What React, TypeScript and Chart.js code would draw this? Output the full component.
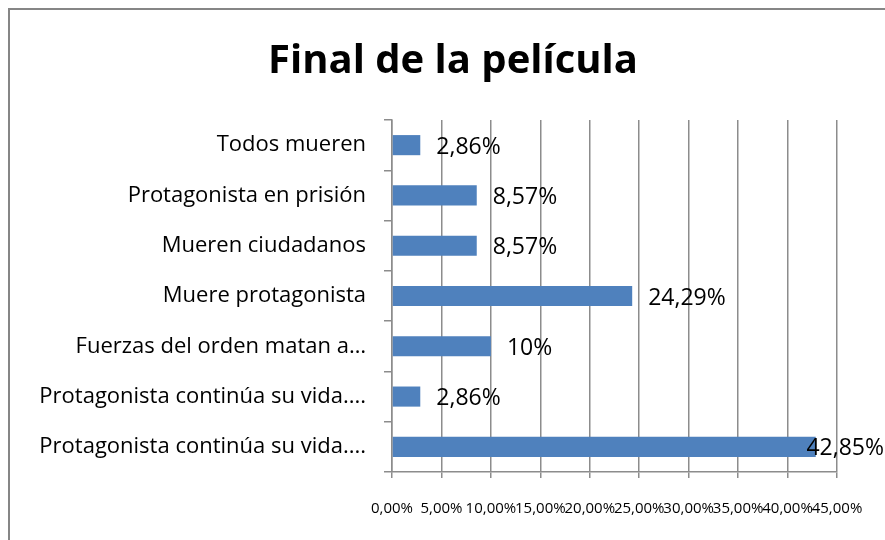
import React, { useEffect, useRef } from "react";
import { Chart, registerables } from "chart.js";

Chart.register(...registerables);

const categories = [
  "Todos mueren",
  "Protagonista en prisión",
  "Mueren ciudadanos",
  "Muere protagonista",
  "Fuerzas del orden matan a…",
  "Protagonista continúa su vida....",
  "Protagonista continúa su vida....",
];
const values = [2.86, 8.57, 8.57, 24.29, 10, 2.86, 42.85];
const valueLabels = ["2,86%", "8,57%", "8,57%", "24,29%", "10%", "2,86%", "42,85%"];
const titleText = "Final de la película";
const FONT = "'Open Sans', 'Liberation Sans', sans-serif";

const framePlugin = {
  id: "frame",
  beforeDraw(chart: any) {
    const ctx = chart.ctx;
    ctx.save();
    ctx.fillStyle = "#ffffff";
    ctx.fillRect(0, 0, chart.width, chart.height);
    ctx.strokeStyle = "#868686";
    ctx.lineWidth = 2;
    ctx.beginPath();
    ctx.moveTo(1, chart.height + 5);
    ctx.lineTo(1, 1);
    ctx.lineTo(chart.width + 5, 1);
    ctx.stroke();
    ctx.fillStyle = "#000000";
    ctx.font = `bold 40px ${FONT}`;
    ctx.textAlign = "center";
    ctx.textBaseline = "middle";
    ctx.fillText(titleText, 445, 54);
    ctx.restore();
  },
};

const labelPlugin = {
  id: "valueLabels",
  afterDatasetsDraw(chart: any) {
    const ctx = chart.ctx;
    const meta = chart.getDatasetMeta(0);
    ctx.save();
    ctx.font = `23px ${FONT}`;
    ctx.fillStyle = "#000000";
    ctx.textAlign = "left";
    ctx.textBaseline = "middle";
    meta.data.forEach((bar: any, i: number) => {
      const t = valueLabels[i];
      const w = ctx.measureText(t).width;
      const x = Math.min(bar.x + 16, chart.width - w - 1);
      ctx.fillText(t, x, bar.y + 2);
    });
    ctx.restore();
  },
};

export default function App() {
  const ref = useRef<HTMLCanvasElement>(null);
  useEffect(() => {
    if (!ref.current) return;
    const chart = new Chart(ref.current, {
      type: "bar",
      data: {
        labels: categories,
        datasets: [
          {
            data: values,
            backgroundColor: "#4F81BD",
            borderWidth: 0,
            barPercentage: 0.4,
            categoryPercentage: 1,
          },
        ],
      },
      options: {
        indexAxis: "y",
        animation: false,
        responsive: false,
        maintainAspectRatio: false,
        layout: { padding: { top: 112, right: 48, left: 0, bottom: 0 } },
        plugins: { legend: { display: false }, tooltip: { enabled: false }, title: { display: false } },
        scales: {
          x: {
            min: 0,
            max: 45,
            afterFit(scale: any) {
              scale.height = 68;
            },
            ticks: {
              stepSize: 5,
              padding: 22,
              color: "#000000",
              maxRotation: 0,
              autoSkip: false,
              font: { family: FONT, size: 15 },
              callback: (v: any) => Number(v).toFixed(2).replace(".", ",") + "%",
            },
            grid: { color: "#8c8c8c", lineWidth: 1.5, tickLength: 6, drawTicks: true },
            border: { color: "#8c8c8c", width: 1.5 },
          },
          y: {
            afterFit(scale: any) {
              scale.width = 384;
            },
            ticks: {
              padding: 18,
              color: "#000000",
              autoSkip: false,
              font: { family: FONT, size: 22 },
            },
            grid: { drawOnChartArea: false, color: "#8c8c8c", lineWidth: 1.5, tickLength: 8, offset: true },
            border: { color: "#8c8c8c", width: 1.5 },
          },
        },
      },
      plugins: [framePlugin, labelPlugin],
    });
    return () => chart.destroy();
  }, []);
  return (
    <div style={{ position: "fixed", left: 8, top: 8, width: 877, height: 532 }}>
      <canvas ref={ref} width={877} height={532} style={{ width: 877, height: 532, display: "block" }} />
    </div>
  );
}
